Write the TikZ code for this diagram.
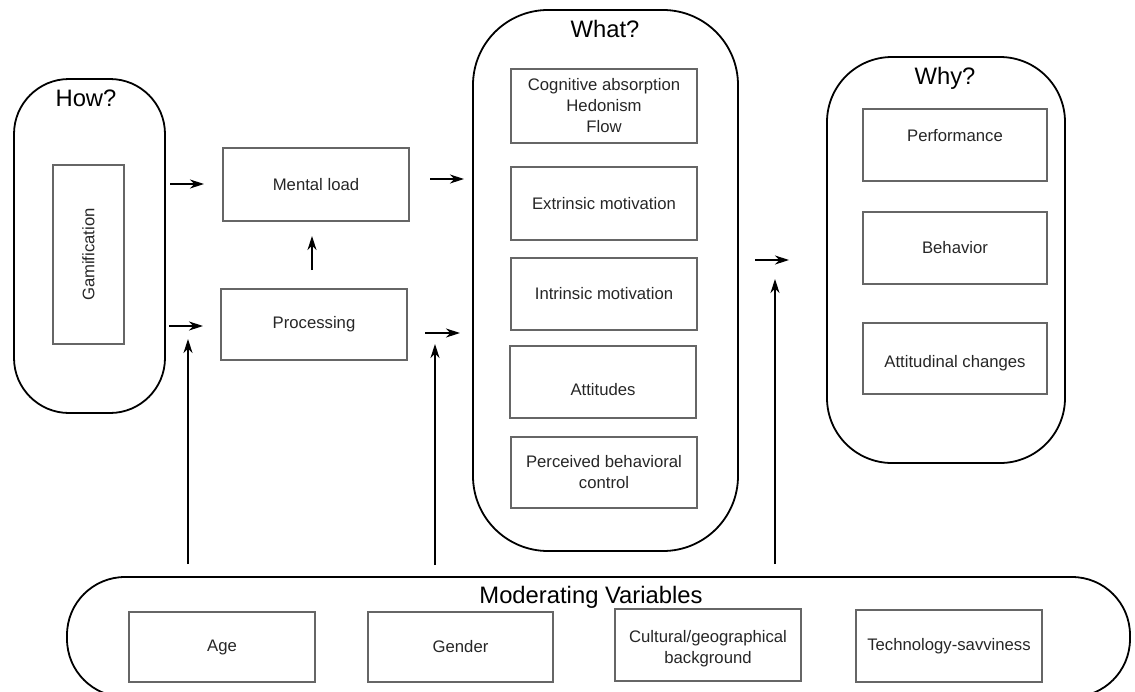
\documentclass[tikz,border=0pt]{standalone}
\usepackage{fontspec}
\setmainfont{Liberation Sans}
\usetikzlibrary{arrows.meta}
\begin{document}
\begin{tikzpicture}[x=1pt,y=-1pt,
  every node/.style={font=\fontsize{16.7}{21}\selectfont, text=black!85},
  container/.style={draw=black, line width=1.8pt, rounded corners=#1, inner sep=0pt},
  boxstyle/.style 2 args={draw=black!60, line width=1.2pt, minimum width=#1, minimum height=#2,
    inner sep=2pt, align=center},
  title/.style={font=\fontsize{23.8}{28}\selectfont, text=black},
  arr/.style={line width=1.2pt, -{Stealth[length=14pt,width=9pt,inset=4.5pt]}}
]
\useasboundingbox (0,0) rectangle (1135,691);
\clip (0,0) rectangle (1135,691);

% group outlines
\node[container=55pt, minimum width=151pt, minimum height=334pt] (how) at (89.5,246) {};
\node[container=75pt, minimum width=265pt, minimum height=541pt] (what) at (605.5,280.5) {};
\node[container=65pt, minimum width=238pt, minimum height=406pt] (why) at (946,260) {};
\node[container=58pt, minimum width=1063pt, minimum height=120pt] (mod) at (598.5,637) {};

% group titles
\node[title] (howT) at (86,98) {How?};
\node[title] (whatT) at (605,29) {What?};
\node[title] (whyT) at (945,78) {Why?};
\node[title] (modT) at (591,597) {Moderating Variables};

% How?
\node[boxstyle={71pt}{179pt}] (gam) at (88.5,254.5) {};
\node[rotate=90] (gamT) at (gam.center) {Gamification};

% mediators
\node[boxstyle={186pt}{73pt}] (mental) at (316,184.5) {Mental load};
\node[boxstyle={186pt}{71pt}] (proc) at (314,324.5) {Processing};

% What?
\node[boxstyle={186pt}{74pt}] (cog) at (604,106) {Cognitive absorption\\Hedonism\\Flow};
\node[boxstyle={186pt}{73pt}] (ext) at (604,203.5) {Extrinsic motivation};
\node[boxstyle={186pt}{72pt}] (intr) at (604,294) {Intrinsic motivation};
\node[boxstyle={186pt}{72pt}, label={[yshift=-8pt]center:Attitudes}] (att) at (603,382) {};
\node[boxstyle={186pt}{71pt}] (pbc) at (604,472.5) {Perceived behavioral\\control};

% Why?
\node[boxstyle={184pt}{72pt}, label={[yshift=9pt]center:Performance}] (perf) at (955,145) {};
\node[boxstyle={184pt}{72pt}] (beh) at (955,248) {Behavior};
\node[boxstyle={184pt}{71pt}, label={[yshift=-5pt]center:Attitudinal changes}] (attc) at (955,358.5) {};

% moderating variables
\node[boxstyle={186pt}{70pt}] (age) at (222,647) {Age};
\node[boxstyle={185pt}{70pt}] (gen) at (460.5,647) {Gender};
\node[boxstyle={186pt}{72pt}, label={[yshift=-4pt]center:{\begin{tabular}{@{}c@{}}Cultural/geographical\\background\end{tabular}}}] (cult) at (708,645) {};
\node[boxstyle={186pt}{72pt}] (tech) at (949,646) {Technology-savviness};

% arrow end points
\coordinate (h1s) at (170,184);  \coordinate (h1e) at (204,184);
\coordinate (h2s) at (169,326);  \coordinate (h2e) at (203,326);
\coordinate (pms) at (312,270);  \coordinate (pme) at (312,236);
\coordinate (m1s) at (430,179);  \coordinate (m1e) at (464,179);
\coordinate (p1s) at (425,333);  \coordinate (p1e) at (460,333);
\coordinate (w1s) at (755,260);  \coordinate (w1e) at (789,260);
\coordinate (v1s) at (188,564);  \coordinate (v1e) at (188,339);
\coordinate (v2s) at (435,565);  \coordinate (v2e) at (435,344);
\coordinate (v3s) at (775,564);  \coordinate (v3e) at (775,279);

\draw[arr] (h1s) -- (h1e);
\draw[arr] (h2s) -- (h2e);
\draw[arr] (pms) -- (pme);
\draw[arr] (m1s) -- (m1e);
\draw[arr] (p1s) -- (p1e);
\draw[arr] (w1s) -- (w1e);
\draw[arr] (v1s) -- (v1e);
\draw[arr] (v2s) -- (v2e);
\draw[arr] (v3s) -- (v3e);
\end{tikzpicture}
\end{document}
